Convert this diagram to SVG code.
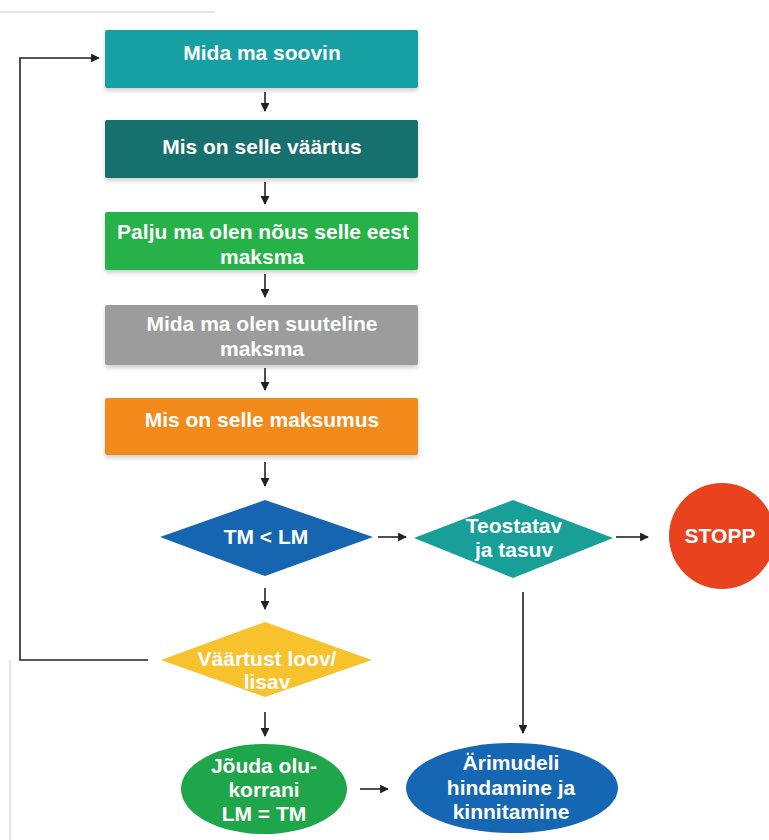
<svg xmlns="http://www.w3.org/2000/svg" width="769" height="840" viewBox="0 0 769 840">
<defs>
<marker id="ah" viewBox="0 0 10 10" refX="9" refY="5" markerWidth="5.5" markerHeight="5.5" orient="auto" markerUnits="strokeWidth">
<path d="M0,0 L10,5 L0,10 z" fill="#222"/>
</marker>
<filter id="sh" x="-5%" y="-10%" width="110%" height="130%">
<feDropShadow dx="0" dy="3" stdDeviation="2" flood-color="#000" flood-opacity="0.18"/>
</filter>
</defs>
<style>
text{font-family:"Liberation Sans",Arial,sans-serif;font-weight:bold;font-size:21px;fill:#fff;text-anchor:middle;dominant-baseline:middle}
.c{stroke:#222;stroke-width:1.6;fill:none;marker-end:url(#ah)}
.scan{stroke:#ddd;stroke-width:1.5;fill:none}
</style>
<rect width="769" height="840" fill="#fff"/>
<path class="scan" d="M0,12 H215 M10,660 V840"/>
<g id="n1"><rect x="105" y="30" width="313" height="58" rx="2" fill="#13a0a3" filter="url(#sh)"/><text x="262" y="54">Mida ma soovin</text></g>
<g id="n2"><rect x="105" y="120" width="313" height="58" rx="2" fill="#17706e" filter="url(#sh)"/><text x="262" y="148">Mis on selle väärtus</text></g>
<g id="n3"><rect x="105" y="212" width="313" height="58" rx="2" fill="#27b24a" filter="url(#sh)"/><text x="263" y="233">Palju ma olen nõus selle eest</text><text x="262" y="258">maksma</text></g>
<g id="n4"><rect x="105" y="305" width="313" height="60" rx="2" fill="#9c9c9c" filter="url(#sh)"/><text x="262" y="325">Mida ma olen suuteline</text><text x="262" y="350">maksma</text></g>
<g id="n5"><rect x="105" y="398" width="313" height="57" rx="2" fill="#f28b1e" filter="url(#sh)"/><text x="262" y="421">Mis on selle maksumus</text></g>
<g id="d1"><polygon points="160,537 265,500 373,537 265,576" fill="#1565b0"/><text x="266" y="538">TM &lt; LM</text></g>
<g id="d2"><polygon points="414,538 513,500 613,538 513,578" fill="#179f98"/><text x="514" y="527">Teostatav</text><text x="514" y="551">ja tasuv</text></g>
<g id="stop"><circle cx="722" cy="536" r="53" fill="#e8421f"/><text x="720" y="537">STOPP</text></g>
<g id="d3"><polygon points="161,660 265,622 372,660 265,697" fill="#f8c22c"/><text x="267" y="660">Väärtust loov/</text><text x="267" y="683">lisav</text></g>
<g id="e1"><ellipse cx="264" cy="789" rx="83" ry="45" fill="#1fa64a"/><text x="264" y="767">Jõuda olu-</text><text x="264" y="791">korrani</text><text x="264" y="815">LM = TM</text></g>
<g id="e2"><ellipse cx="512" cy="788" rx="106" ry="45" fill="#1667b3"/><text x="511" y="764">Ärimudeli</text><text x="511" y="789">hindamine ja</text><text x="511" y="813">kinnitamine</text></g>
<g id="connectors">
<path class="c" d="M265,92 V111"/>
<path class="c" d="M265,182 V204"/>
<path class="c" d="M265,274 V297"/>
<path class="c" d="M265,368 V390"/>
<path class="c" d="M265,462 V486"/>
<path class="c" d="M378,537 H406"/>
<path class="c" d="M616,537 H648"/>
<path class="c" d="M265,588 V609"/>
<path class="c" d="M265,712 V736"/>
<path class="c" d="M360,789 H388"/>
<path class="c" d="M523,592 V733"/>
<path class="c" d="M148,660 H20 V58 H99"/>
</g>
</svg>
